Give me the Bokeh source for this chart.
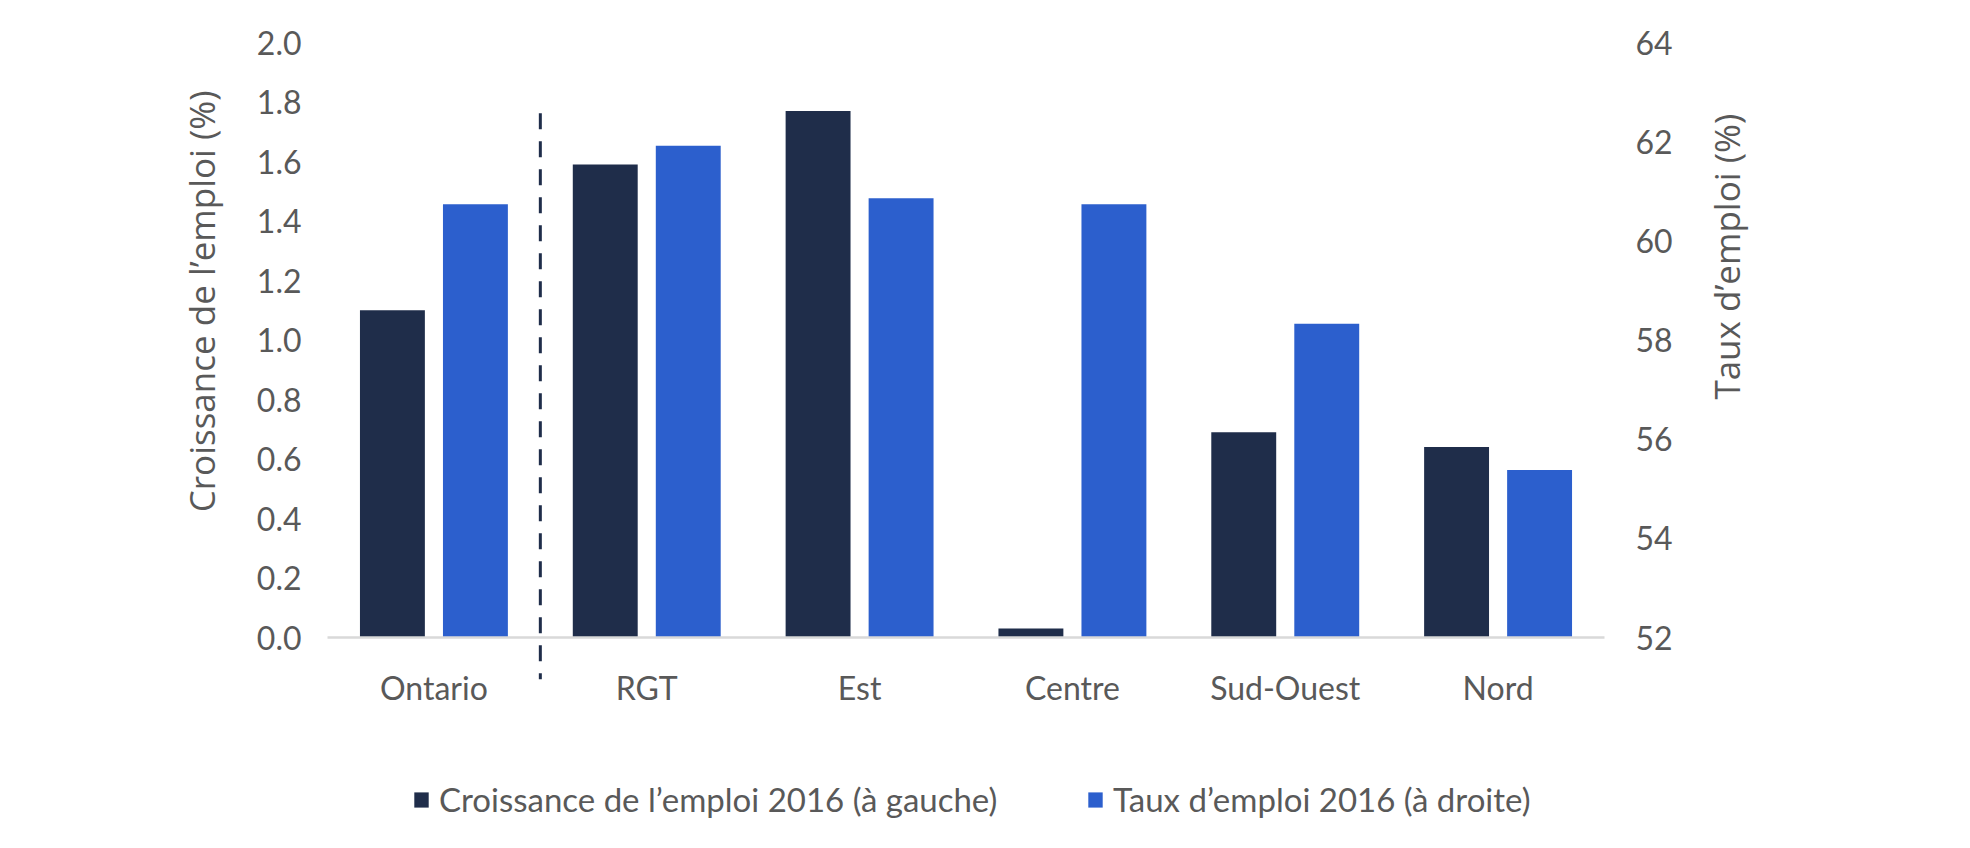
from math import pi
from bokeh.plotting import figure
from bokeh.models import (Range1d, LinearAxis, FixedTicker, NumeralTickFormatter,
                          ColumnDataSource, Legend, LegendItem, Label)
from bokeh.transform import dodge
from bokeh.embed import file_html
from bokeh.resources import INLINE

# ---- data ----
regions = ["Ontario", "RGT", "Est", "Centre", "Sud-Ouest", "Nord"]
growth_2016 = [1.10, 1.59, 1.77, 0.03, 0.69, 0.64]      # left axis (%)
rate_2016 = [60.74, 61.92, 60.86, 60.74, 58.33, 55.38]   # right axis (%)
left_ticks = [0.0, 0.2, 0.4, 0.6, 0.8, 1.0, 1.2, 1.4, 1.6, 1.8, 2.0]
right_ticks = [52, 54, 56, 58, 60, 62, 64]
series_names = ["Croissance de l’emploi 2016 (à gauche)", "Taux d’emploi 2016 (à droite)"]
left_title = "Croissance de l’emploi (%)"
right_title = "Taux d’emploi (%)"

# ---- styles ----
DARK = "#1F2D4A"
BLUE = "#2C5FCD"
TXT = "#595959"
FONT = "Lato"
TFONT = "Open Sans"

W, H = 1954, 832
cat_px = 212.83           # pixel width of one category
y_px = 297.5              # pixels per 1.0 on the left axis
n = len(regions)
left_min, left_max = 0.0, 2.0
right_min, right_max = 52.0, 64.0
ratio = (right_max - right_min) / (left_max - left_min)

# frame covers the whole canvas; plot area spans x in [0, n], y in [0, 2]
x_lo = -327 / cat_px
x_hi = n + 350 / cat_px
y_hi = left_max + 42 / y_px
y_lo = left_min - (H - 42 - 2 * y_px) / y_px

centers = [i + 0.5 for i in range(n)]
src = ColumnDataSource(dict(x=centers, region=regions, growth=growth_2016, rate=rate_2016))

p = figure(x_range=Range1d(x_lo, x_hi), y_range=Range1d(y_lo, y_hi),
           width=W, height=H, output_backend="svg", toolbar_location=None,
           min_border=0, min_border_left=0, min_border_right=0,
           min_border_top=0, min_border_bottom=0, x_axis_type=None, y_axis_type=None)
p.extra_y_ranges = {"right": Range1d(right_min + (y_lo - left_min) * ratio,
                                     right_min + (y_hi - left_min) * ratio)}
p.outline_line_color = None
p.background_fill_color = "white"
p.border_fill_color = "white"

r1 = p.vbar(x=dodge("x", -0.195), top="growth", bottom=left_min,
            width=0.305, source=src, fill_color=DARK, line_color=None)
r2 = p.vbar(x=dodge("x", 0.195), top="rate", bottom=right_min,
            width=0.305, source=src, fill_color=BLUE, line_color=None, y_range_name="right")

# category baseline (x axis line)
p.segment(x0=[0], y0=[left_min], x1=[n], y1=[left_min], line_color="#D9D9D9", line_width=2.5)

# divider between Ontario and the regions
p.segment(x0=[1.0], y0=[1.762], x1=[1.0], y1=[-0.14], line_color=DARK,
          line_width=3, line_dash="16 12")

def style_axis(ax, standoff, size="32px"):
    ax.axis_line_color = None
    ax.major_tick_line_color = None
    ax.minor_tick_line_color = None
    ax.major_tick_out = 0
    ax.major_tick_in = 0
    ax.major_label_standoff = standoff
    ax.major_label_text_font = FONT
    ax.major_label_text_font_size = size
    ax.major_label_text_color = TXT

xa = LinearAxis(ticker=FixedTicker(ticks=centers), fixed_location=left_min,
                major_label_overrides={c: r for c, r in zip(centers, regions)})
style_axis(xa, 30)
p.add_layout(xa, "below")

ya = LinearAxis(ticker=FixedTicker(ticks=left_ticks), formatter=NumeralTickFormatter(format="0.0"),
                fixed_location=0)
style_axis(ya, 26)
p.add_layout(ya, "left")

ra = LinearAxis(y_range_name="right", ticker=FixedTicker(ticks=right_ticks),
                formatter=NumeralTickFormatter(format="0"), fixed_location=n)
style_axis(ra, 31)
p.add_layout(ra, "right")

# axis titles
p.add_layout(Label(x=-0.59, y=1.13, text=left_title,
                   angle=pi / 2, text_align="center", text_baseline="middle",
                   text_font=TFONT, text_font_size="35px", text_color=TXT))
p.add_layout(Label(x=6.573, y=1.28, text=right_title,
                   angle=pi / 2, text_align="center", text_baseline="middle",
                   text_font=TFONT, text_font_size="35px", text_color=TXT))

# legend (two entries placed below the plot)
for name, rend, loc in [(series_names[0], r1, (412, 13)), (series_names[1], r2, (1086, 13))]:
    lg = Legend(items=[LegendItem(label=name, renderers=[rend])], location=loc,
                orientation="horizontal", padding=0, margin=0, spacing=0,
                border_line_color=None, background_fill_alpha=0,
                glyph_width=18, glyph_height=19, label_standoff=9, label_height=19,
                label_text_font=FONT, label_text_font_size="33px", label_text_color=TXT)
    p.add_layout(lg, "center")

open("out.html", "w").write(file_html(p, INLINE))
